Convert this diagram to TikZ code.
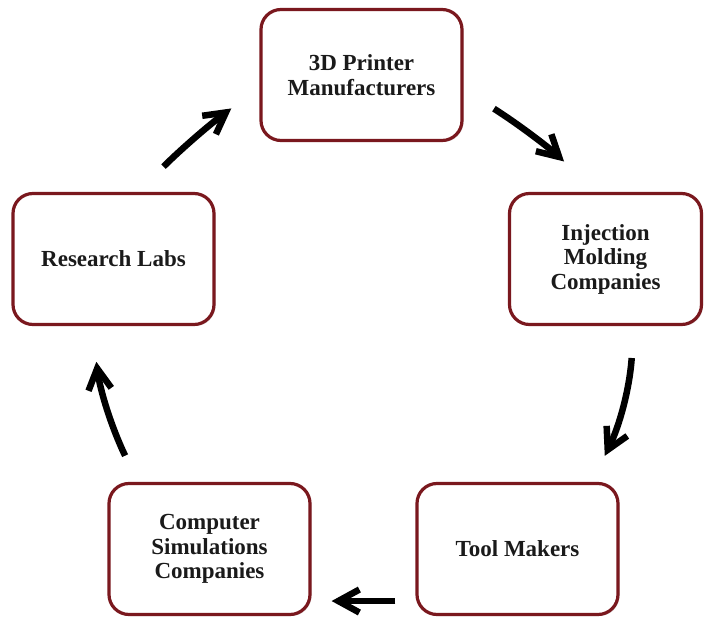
\documentclass[tikz,border=0pt]{standalone}
\usepackage{fontspec}
\setmainfont{Liberation Serif}
\usetikzlibrary{arrows.meta,shadows}
\definecolor{boxred}{RGB}{122,24,30}
\definecolor{txtgray}{RGB}{26,26,26}
\tikzset{
  stage/.style={draw=boxred, line width=3.2pt, rounded corners=20pt, fill=white,
    minimum width=201pt, minimum height=131pt, align=center,
    font=\fontsize{23}{24.5}\selectfont\bfseries, text=txtgray,
    drop shadow={opacity=0.25, shadow xshift=1.5pt, shadow yshift=-1.5pt}},
  cycarrow/.style={line width=6.5pt, -{Straight Barb[length=21pt,width=23pt]}}
}
\begin{document}
\begin{tikzpicture}[x=1pt,y=1pt]
  \useasboundingbox (0,0) rectangle (705,622);
  % five stages, clockwise from the top
  \node[stage] (printer) at (361.5,547) {3D Printer\\Manufacturers};
  \node[stage, minimum width=192pt] (molding) at (605.5,363) {Injection\\Molding\\Companies};
  \node[stage] (tool) at (517.5,73) {Tool Makers};
  \node[stage] (sim) at (209.5,73) {Computer\\Simulations\\Companies};
  \node[stage] (lab) at (113.5,363) {Research Labs};
  % arrows round the cycle
  \draw[cycarrow, shorten <=36pt, shorten >=35pt] (lab.70) to[bend left=4] (printer.187);
  \draw[cycarrow, shorten <=36pt, shorten >=45pt] (printer.352) to[bend left=5] (molding.97);
  \draw[cycarrow, shorten <=32pt, shorten >=29pt] (molding.293) to[bend left=11] (tool.42);
  \draw[cycarrow, shorten <=20pt, shorten >=20pt] (tool.207) -- (sim.333);
  \draw[cycarrow, shorten <=29pt, shorten >=36pt] (sim.137) to[bend left=9] (lab.252);
\end{tikzpicture}
\end{document}
